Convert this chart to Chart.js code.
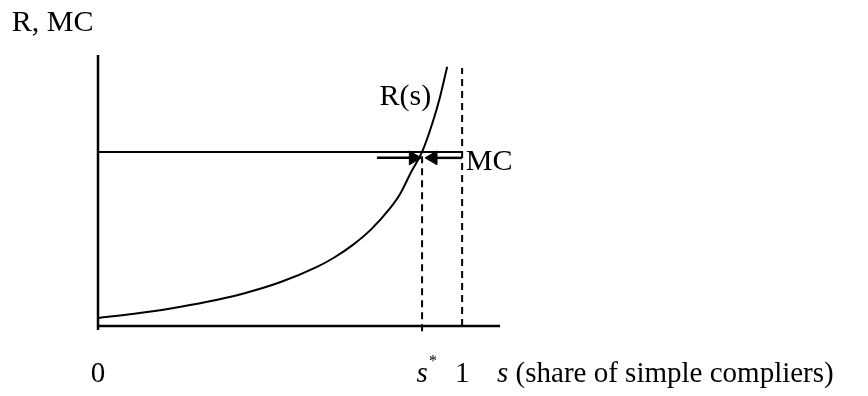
<!DOCTYPE html>
<html>
<head>
<meta charset="utf-8">
<script src="https://cdn.jsdelivr.net/npm/chart.js@4/dist/chart.umd.min.js"></script>
<style>
  html, body { margin: 0; padding: 0; background: #ffffff; }
  canvas { display: block; }
</style>
</head>
<body>
<canvas id="c" width="868" height="396"></canvas>
<script>
// ---- data ----
const sValues = [0, 0.1, 0.2, 0.3, 0.4, 0.5, 0.6, 0.65, 0.7, 0.75, 0.8, 0.83, 0.86, 0.89, 0.92, 0.94, 0.959];
const rValues = [0.046, 0.071, 0.101, 0.139, 0.187, 0.251, 0.338, 0.395, 0.466, 0.555, 0.671, 0.76, 0.885, 1.0, 1.176, 1.322, 1.49];
const sStar = 0.89;
const sOne = 1;
const mcLevel = 1;
const dashTop = 1.483;
const arrowLevel = 0.966;
const xTickValues = [0, sStar, sOne];
const xTickLabels = ['0', 's*', '1'];
const yAxisTitle = 'R, MC';
const xAxisTitle = 's (share of simple compliers)';
const curveLabel = 'R(s)';
const mcLabel = 'MC';
const xMax = 1.104;
const yMax = 1.557;

const FONT = '"Liberation Serif", "Times New Roman", serif';
const black = '#000000';

function line(points, extra) {
  return Object.assign({
    data: points,
    borderColor: black,
    borderWidth: 2,
    pointRadius: 0,
    fill: false,
    clip: false,
    tension: 0
  }, extra || {});
}

const textPlugin = {
  id: 'texts',
  afterDatasetsDraw(chart) {
    const ctx = chart.ctx;
    const xs = chart.scales.x, ys = chart.scales.y;
    const px = v => xs.getPixelForValue(v);
    const py = v => ys.getPixelForValue(v);
    ctx.save();
    ctx.fillStyle = black;
    ctx.textBaseline = 'alphabetic';
    const reg = '29px ' + FONT;
    const ital = 'italic 29px ' + FONT;

    // y axis title
    ctx.font = '30px ' + FONT; ctx.textAlign = 'left';
    ctx.fillText(yAxisTitle, px(-0.237), py(1.695));

    // tick labels
    const baseY = py(-0.322);
    ctx.textAlign = 'center';
    ctx.font = reg;
    ctx.fillText(xTickLabels[0], px(xTickValues[0]), baseY);
    // s*
    ctx.font = ital;
    ctx.fillText('s', px(xTickValues[1]), baseY);
    ctx.font = '16px ' + FONT;
    ctx.fillText('*', px(xTickValues[1]) + 11, baseY - 16);
    ctx.font = reg;
    ctx.fillText(xTickLabels[2], px(xTickValues[2]), baseY);

    // x axis title
    ctx.textAlign = 'left';
    let x0 = px(1.096);
    ctx.font = ital;
    ctx.fillText('s', x0, baseY);
    x0 += ctx.measureText('s').width;
    ctx.font = reg;
    ctx.fillText(xAxisTitle.slice(1), x0, baseY);

    // curve label and MC label
    ctx.font = '30px ' + FONT;
    ctx.textAlign = 'right';
    ctx.fillText(curveLabel, px(0.915), py(1.27));
    ctx.textAlign = 'left';
    ctx.fillText(mcLabel, px(1.01), py(0.897));
    ctx.restore();
  }
};

new Chart(document.getElementById('c'), {
  type: 'line',
  data: {
    datasets: [
      line(sValues.map((s, i) => ({ x: s, y: rValues[i] })), { cubicInterpolationMode: 'monotone', borderWidth: 2 }),
      line([{ x: 0, y: -0.023 }, { x: 0, y: yMax }], { borderWidth: 2.5 }),
      line([{ x: 0, y: 0 }, { x: xMax, y: 0 }], { borderWidth: 2.5 }),
      line([{ x: 0, y: mcLevel }, { x: sOne, y: mcLevel }], { borderWidth: 2 }),
      line([{ x: sStar, y: -0.03 }, { x: sStar, y: mcLevel }], { borderDash: [7, 5] }),
      line([{ x: sOne, y: 0 }, { x: sOne, y: dashTop }], { borderDash: [7, 5] }),
      line([{ x: 0.766, y: arrowLevel }, { x: 0.866, y: arrowLevel }], {
        borderWidth: 2.5,
        pointRadius: [0, 8], pointStyle: 'triangle', rotation: 90,
        pointBackgroundColor: black, pointBorderColor: black, pointBorderWidth: 1
      }),
      line([{ x: sOne, y: arrowLevel }, { x: 0.92, y: arrowLevel }], {
        borderWidth: 2.5,
        pointRadius: [0, 8], pointStyle: 'triangle', rotation: -90,
        pointBackgroundColor: black, pointBorderColor: black, pointBorderWidth: 1
      })
    ]
  },
  options: {
    responsive: false,
    devicePixelRatio: 1,
    animation: false,
    parsing: true,
    layout: { padding: { left: 98, right: 368, top: 55, bottom: 70 } },
    plugins: { legend: { display: false }, tooltip: { enabled: false } },
    scales: {
      x: { type: 'linear', min: 0, max: xMax, display: false },
      y: { type: 'linear', min: 0, max: yMax, display: false }
    }
  },
  plugins: [textPlugin]
});
</script>
</body>
</html>
